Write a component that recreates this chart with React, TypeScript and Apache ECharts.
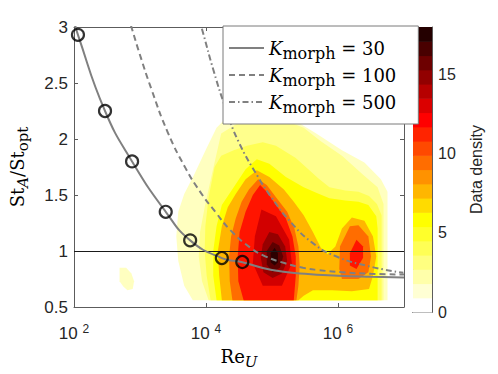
import React, { useEffect, useRef } from "react";
import * as echarts from "echarts";

// ---------------- data (x values are log10(Re_U)) ----------------
const xTickExponents = [2, 4, 6];
const yTicks = [0.5, 1, 1.5, 2, 2.5, 3];
const colorbarTicks = [0, 5, 10, 15];
const colorbarMax = 18;
const referenceSt = 1;

const markerLogRe = [2.06, 2.47, 2.88, 3.39, 3.76, 4.24, 4.55];
const markerSt = [2.93, 2.25, 1.8, 1.35, 1.095, 0.937, 0.902];

const kMorphValues = [30, 100, 500];

const k30LogRe = [2.0, 2.06, 2.47, 2.88, 3.39, 3.76, 4.24, 4.55, 5.0, 5.5, 6.0, 6.5, 7.0];
const k30St = [3.06, 2.93, 2.25, 1.8, 1.35, 1.095, 0.937, 0.9, 0.83, 0.797, 0.78, 0.77, 0.763];

const k100LogRe = [2.82, 2.88, 3.0, 3.17, 3.42, 3.69, 3.91, 4.14, 4.38, 4.67, 4.89, 5.2, 5.47, 5.7, 6.06, 6.5, 7.0];
const k100St = [3.1, 2.98, 2.75, 2.45, 2.06, 1.74, 1.53, 1.35, 1.18, 1.03, 0.955, 0.89, 0.85, 0.83, 0.81, 0.797, 0.79];

const k500LogRe = [3.88, 3.94, 4.12, 4.3, 4.49, 4.79, 4.99, 5.28, 5.62, 5.96, 6.46, 6.99];
const k500St = [3.1, 2.98, 2.6, 2.27, 1.98, 1.66, 1.48, 1.26, 1.07, 0.955, 0.865, 0.805];

// density contour regions [log10 Re, St]
const level1Main = [[4.33, 2.2], [4.16, 2.1], [4.01, 1.92], [3.82, 1.68], [3.67, 1.51], [3.58, 1.35], [3.55, 1.13], [3.58, 0.91], [3.67, 0.69], [3.8, 0.56], [6.75, 0.56], [6.75, 1.53], [6.65, 1.64], [6.4, 1.79], [6.06, 1.9], [5.67, 2.05], [5.28, 2.19], [4.82, 2.29]];
const level1Small = [[2.69, 0.85], [2.79, 0.85], [2.87, 0.8], [2.91, 0.73], [2.89, 0.66], [2.81, 0.65], [2.75, 0.68], [2.69, 0.73]];
const level2 = [[4.23, 2.05], [4.48, 2.14], [4.82, 2.18], [5.18, 2.17], [5.48, 2.1], [5.74, 1.98], [6.06, 1.85], [6.38, 1.68], [6.6, 1.57], [6.69, 1.42], [6.69, 0.56], [4.04, 0.56], [3.94, 0.73], [3.89, 0.95], [3.91, 1.17], [3.98, 1.39], [4.08, 1.66]];
const level3 = [[4.23, 1.85], [4.42, 1.9], [4.62, 1.94], [4.86, 1.97], [5.06, 1.94], [5.36, 1.83], [5.55, 1.73], [5.7, 1.65], [5.87, 1.57], [6.11, 1.54], [6.31, 1.53], [6.47, 1.49], [6.59, 1.42], [6.66, 1.32], [6.66, 0.56], [4.07, 0.56], [4.01, 0.78], [3.98, 1.0], [3.99, 1.22], [4.04, 1.48], [4.13, 1.75]];
const level4 = [[4.77, 1.82], [4.96, 1.78], [5.21, 1.66], [5.48, 1.57], [5.67, 1.52], [5.87, 1.47], [6.11, 1.45], [6.31, 1.44], [6.46, 1.41], [6.58, 1.31], [6.6, 1.2], [6.6, 0.56], [4.16, 0.56], [4.11, 0.78], [4.11, 1.0], [4.16, 1.22], [4.24, 1.41], [4.42, 1.57], [4.6, 1.73]];
const level5 = [[4.77, 1.72], [4.96, 1.66], [5.18, 1.55], [5.33, 1.44], [5.48, 1.32], [5.62, 1.17], [5.74, 1.03], [5.84, 0.97], [5.96, 1.04], [6.06, 1.2], [6.21, 1.3], [6.4, 1.27], [6.53, 1.13], [6.58, 0.95], [6.53, 0.78], [6.47, 0.66], [6.21, 0.64], [5.91, 0.65], [5.62, 0.65], [5.48, 0.6], [5.4, 0.56], [4.24, 0.56], [4.2, 0.78], [4.18, 1.0], [4.24, 1.22], [4.33, 1.39], [4.45, 1.51], [4.6, 1.64]];
const level6Main = [[4.79, 1.64], [4.92, 1.59], [5.06, 1.48], [5.23, 1.35], [5.34, 1.2], [5.4, 1.04], [5.42, 0.87], [5.4, 0.69], [5.37, 0.56], [4.4, 0.56], [4.36, 0.73], [4.35, 0.95], [4.38, 1.13], [4.45, 1.29], [4.54, 1.44], [4.65, 1.55]];
const level6Right = [[6.18, 1.22], [6.31, 1.23], [6.46, 1.13], [6.5, 0.95], [6.46, 0.81], [6.31, 0.75], [6.06, 0.75], [6.02, 0.84], [6.03, 1.04]];
const level7Main = [[4.82, 1.59], [4.92, 1.53], [5.06, 1.41], [5.21, 1.29], [5.31, 1.13], [5.36, 0.95], [5.36, 0.78], [5.33, 0.56], [4.57, 0.56], [4.49, 0.73], [4.48, 0.95], [4.51, 1.17], [4.6, 1.35], [4.71, 1.5]];
const level7Right = [[6.28, 1.1], [6.38, 1.04], [6.38, 0.94], [6.28, 0.84], [6.18, 0.87], [6.18, 0.98]];
const level8 = [[4.84, 1.37], [5.06, 1.31], [5.26, 1.1], [5.3, 0.89], [5.15, 0.69], [4.86, 0.69], [4.71, 0.89], [4.74, 1.13]];
const level9 = [[4.96, 1.17], [5.09, 1.15], [5.2, 1.04], [5.23, 0.91], [5.15, 0.8], [5.01, 0.76], [4.87, 0.81], [4.83, 0.94], [4.86, 1.06]];
const level10 = [[5.01, 1.08], [5.11, 1.05], [5.17, 0.95], [5.12, 0.85], [5.01, 0.81], [4.92, 0.88], [4.92, 1.0]];
const level11 = [[5.04, 1.03], [5.09, 0.98], [5.09, 0.9], [5.04, 0.87], [4.98, 0.9], [4.98, 0.98]];

const contourRegions = [
  { level: 0, pts: level1Main },
  { level: 0, pts: level1Small },
  { level: 1, pts: level2 },
  { level: 2, pts: level3 },
  { level: 3, pts: level4 },
  { level: 4, pts: level5 },
  { level: 5, pts: level6Main },
  { level: 5, pts: level6Right },
  { level: 6, pts: level7Main },
  { level: 6, pts: level7Right },
  { level: 7, pts: level8 },
  { level: 8, pts: level9 },
  { level: 9, pts: level10 },
  { level: 10, pts: level11 },
];

// ---------------- styles ----------------
const levelColors = ["#FFFFC0", "#FFFF8C", "#FFFF55", "#FFFF00", "#FFB600", "#FF6D00", "#FF1400", "#D20000", "#960000", "#5E0000", "#2C0000"];
const colorbarColors = [
  "#FFFFFF", "#FFFFD4", "#FFFFAA", "#FFFF80", "#FFFF55", "#FFFF2B", "#FFFF00", "#FFDB00", "#FFB600", "#FF9200",
  "#FF6D00", "#FF4900", "#FF2400", "#FF0000", "#DB0000", "#B60000", "#920000", "#6D0000", "#490000", "#240000",
];
const axisColor = "#5c5c5c";
const labelColor = "#262626";
const sansFont = "Liberation Sans";
const texFont = "DejaVu Serif";
const curveColor = "#808080";

const zip = (a: number[], b: number[]) => a.map((v, i) => [v, b[i]]);

export default function App() {
  const ref = useRef<HTMLDivElement>(null);
  useEffect(() => {
    const chart = echarts.init(ref.current!, null, { renderer: "svg" });

    const frameAxisX = (position: string, withLabels: boolean) => ({
      type: "value",
      gridIndex: 0,
      position,
      min: xTickExponents[0],
      max: 7,
      interval: 2,
      axisLine: { show: true, onZero: false, lineStyle: { color: axisColor, width: 1 } },
      axisTick: { show: true, inside: true, length: 4, lineStyle: { color: axisColor } },
      splitLine: { show: false },
      axisLabel: withLabels
        ? {
            show: true,
            margin: 16,
            showMaxLabel: false,
            formatter: (v: number) => (xTickExponents.includes(v) ? `{b|10}{s|${v}}` : ""),
            rich: {
              b: { fontSize: 17, fontFamily: sansFont, color: labelColor, lineHeight: 20 },
              s: { fontSize: 12, fontFamily: sansFont, color: labelColor, lineHeight: 10, verticalAlign: "top", padding: [0, 0, 0, 5] },
            },
          }
        : { show: false },
    });

    const frameAxisY = (position: string, withLabels: boolean) => ({
      type: "value",
      gridIndex: 0,
      position,
      min: yTicks[0],
      max: yTicks[yTicks.length - 1],
      interval: 0.5,
      axisLine: { show: true, onZero: false, lineStyle: { color: axisColor, width: 1 } },
      axisTick: { show: true, inside: true, length: 4, lineStyle: { color: axisColor } },
      splitLine: { show: false },
      axisLabel: withLabels
        ? { show: true, margin: 6, fontSize: 17, fontFamily: sansFont, color: labelColor }
        : { show: false },
    });

    const texRich = {
      r: { fontFamily: texFont, fontSize: 18, color: "#000", lineHeight: 26 },
      i: { fontFamily: texFont, fontStyle: "italic", fontSize: 15, color: "#000", lineHeight: 14, verticalAlign: "bottom" },
      s: { fontFamily: texFont, fontSize: 15, color: "#000", lineHeight: 14, verticalAlign: "bottom" },
    };

    const curveSeries = [k30LogRe, k100LogRe, k500LogRe].map((xs, idx) => {
      const ys = [k30St, k100St, k500St][idx];
      const dash: any = ["solid", [6, 4], [6, 3, 1.5, 3]][idx];
      return {
        type: "line",
        name: `K_morph = ${kMorphValues[idx]}`,
        xAxisIndex: 0,
        yAxisIndex: 0,
        data: zip(xs, ys),
        smooth: 0.5,
        symbol: "none",
        showSymbol: false,
        clip: true,
        z: 3,
        lineStyle: { color: curveColor, width: 2, type: dash },
        itemStyle: { color: curveColor },
        ...(idx === 0
          ? {
              markLine: {
                silent: true,
                z: 3,
                symbol: ["none", "none"],
                label: { show: false },
                lineStyle: { color: "#1a1a1a", width: 1.2, type: "solid" },
                data: [{ yAxis: referenceSt }],
              },
            }
          : {}),
      };
    });

    const option: any = {
      animation: false,
      backgroundColor: "#ffffff",
      grid: [
        { left: 63, top: 27, width: 341, height: 285 },
        { left: 413, top: 27, width: 19, height: 285 },
      ],
      xAxis: [
        {
          ...frameAxisX("bottom", true),
          name: "{r|Re}{i|U}",
          nameLocation: "middle",
          nameGap: 36,
          nameTextStyle: { rich: texRich },
        },
        frameAxisX("top", false),
        {
          type: "category",
          gridIndex: 1,
          position: "bottom",
          data: [""],
          axisLine: { show: true, lineStyle: { color: axisColor, width: 1 } },
          axisTick: { show: false },
          axisLabel: { show: false },
        },
        {
          type: "category",
          gridIndex: 1,
          position: "top",
          data: [""],
          axisLine: { show: true, lineStyle: { color: axisColor, width: 1 } },
          axisTick: { show: false },
          axisLabel: { show: false },
        },
      ],
      yAxis: [
        {
          ...frameAxisY("left", true),
          name: "{r|St}{i|A}{r|/St}{s|opt}",
          nameLocation: "middle",
          nameRotate: 90,
          nameGap: 44,
          nameTextStyle: { rich: texRich },
        },
        frameAxisY("right", false),
        {
          type: "value",
          gridIndex: 1,
          position: "right",
          min: colorbarTicks[0],
          max: colorbarMax,
          interval: 5,
          axisLine: { show: true, lineStyle: { color: axisColor, width: 1 } },
          axisTick: { show: true, inside: true, length: 3, lineStyle: { color: axisColor } },
          splitLine: { show: false },
          axisLabel: {
            show: true,
            margin: 6,
            fontSize: 16,
            fontFamily: sansFont,
            color: labelColor,
            formatter: (v: number) => (colorbarTicks.includes(v) ? String(v) : ""),
          },
          name: "Data density",
          nameLocation: "middle",
          nameRotate: 90,
          nameGap: 36,
          nameTextStyle: { fontSize: 16, fontFamily: sansFont, color: labelColor },
        },
        {
          type: "value",
          gridIndex: 1,
          position: "left",
          min: colorbarTicks[0],
          max: colorbarMax,
          axisLine: { show: true, lineStyle: { color: axisColor, width: 1 } },
          axisTick: { show: false },
          axisLabel: { show: false },
          splitLine: { show: false },
        },
      ],
      legend: {
        data: kMorphValues.map((v) => `K_morph = ${v}`),
        orient: "vertical",
        left: 223,
        top: 26,
        itemWidth: 35,
        itemHeight: 14,
        itemGap: 5,
        padding: [13, 22, 9, 5],
        backgroundColor: "#ffffff",
        borderColor: "#7a7a7a",
        borderWidth: 1,
        selectedMode: false,
        z: 20,
        itemStyle: { opacity: 0, color: "rgba(0,0,0,0)", borderWidth: 0 },
        formatter: (name: string) => `{k|K}{m|morph}{e| = ${name.split("= ")[1]}}`,
        textStyle: {
          rich: {
            k: { fontFamily: texFont, fontStyle: "italic", fontSize: 18, color: "#000", lineHeight: 26 },
            m: { fontFamily: texFont, fontSize: 16, color: "#000", lineHeight: 14, verticalAlign: "bottom" },
            e: { fontFamily: texFont, fontSize: 18, color: "#000", lineHeight: 26 },
          },
        },
      },
      series: [
        {
          type: "custom",
          name: "density",
          xAxisIndex: 0,
          yAxisIndex: 0,
          silent: true,
          clip: true,
          z: 1,
          data: contourRegions.map((c, i) => [c.pts[0][0], c.pts[0][1], i]),
          renderItem: (params: any, api: any) => {
            const region = contourRegions[api.value(2)];
            return {
              type: "polygon",
              shape: { points: region.pts.map((p) => api.coord(p)) },
              style: { fill: levelColors[region.level], stroke: "none" },
            };
          },
        },
        ...curveSeries,
        {
          type: "scatter",
          name: "markers",
          xAxisIndex: 0,
          yAxisIndex: 0,
          data: zip(markerLogRe, markerSt),
          symbol: "circle",
          symbolSize: 12,
          z: 4,
          itemStyle: { color: "rgba(0,0,0,0)", borderColor: "#000", borderWidth: 2.2 },
        },
        {
          type: "custom",
          name: "colorbar",
          xAxisIndex: 2,
          yAxisIndex: 2,
          silent: true,
          z: 1,
          data: colorbarColors.map((_, i) => [0, i]),
          renderItem: (params: any, api: any) => {
            const i = api.value(1);
            const n = colorbarColors.length;
            const lo = api.coord([0, (i * colorbarMax) / n]);
            const hi = api.coord([0, ((i + 1) * colorbarMax) / n]);
            const w = api.size([1, 0])[0];
            return {
              type: "rect",
              shape: { x: lo[0] - w / 2, y: hi[1], width: w, height: lo[1] - hi[1] + 0.6 },
              style: { fill: colorbarColors[i], stroke: "none" },
            };
          },
        },
      ],
    };

    chart.setOption(option);
    return () => chart.dispose();
  }, []);

  return (
    <div
      ref={ref}
      style={{ position: "fixed", left: 0, top: 0, width: 498, height: 374, background: "#ffffff" }}
    />
  );
}
